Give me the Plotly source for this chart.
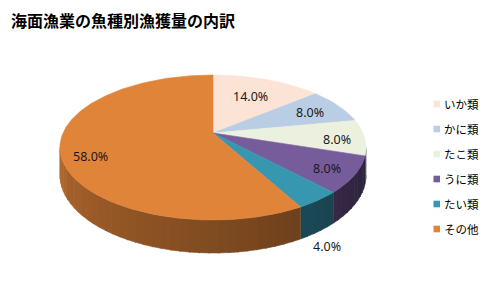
import numpy as np
import plotly.graph_objects as go

# ---- data ----
categories = ["いか類", "かに類", "たこ類", "うに類", "たい類", "その他"]
values = [14.0, 8.0, 8.0, 8.0, 4.0, 58.0]
title_text = "海面漁業の魚種別漁獲量の内訳"

# ---- style ----
top_colors = ["#FBE4D5", "#B9CDE5", "#EBF1DE", "#775C9C", "#3797B0", "#E0843A"]
label_modes = ["in", "in", "in", "in", "out", "in"]
label_radius = [0.65, 0.76, 0.82, 0.82, 1.0, 0.81]
label_dy = [0, 1, 2.5, 2, 15, 8.5]

CX, CY = 213.0, 133.0      # pie vertex (pixels)
RX, RY = 150.0, 69.6       # radii
K = 0.2                    # perspective strength
T = 26.4                   # thickness
W, H = 497, 298


def proj(theta_deg, r=1.0, drop=0.0):
    th = np.radians(theta_deg)
    s = -np.cos(th) * r
    p = 1.0 / (1.0 - K * s)
    x = CX + RX * r * np.sin(th) * p
    y = CY + RY * s * p + drop * T * (1.0 / (1.0 - K * (-np.cos(th))))
    return x, y


def shade(hex_color, f):
    h = hex_color.lstrip("#")
    r, g, b = (int(h[i:i + 2], 16) for i in (0, 2, 4))
    return "rgb(%d,%d,%d)" % (r * f, g * f, b * f)


def wall_factor(theta):
    return 0.35 + (theta - 100.0) / 170.0 * 0.47


total = sum(values)
angles = np.cumsum([0.0] + [v / total * 360.0 for v in values])

fig = go.Figure()

# silhouette limits of visible side wall
sil_a = np.degrees(np.arccos(-K))
sil_b = 360.0 - sil_a

# side walls
for i, cat in enumerate(categories):
    a0, a1 = max(angles[i], sil_a), min(angles[i + 1], sil_b)
    if a1 <= a0:
        continue
    n = max(2, int((a1 - a0) / 3.0) + 1)
    edges = np.linspace(a0, a1, n + 1)
    for j in range(n):
        t = np.linspace(edges[j], edges[j + 1] + (0.4 if j < n - 1 else 0), 6)
        xt, yt = proj(t)
        xb, yb = proj(t[::-1], drop=1.0)
        col = shade(top_colors[i], wall_factor((edges[j] + edges[j + 1]) / 2))
        fig.add_trace(go.Scatter(
            x=np.concatenate([xt, xb]), y=np.concatenate([yt, yb]),
            mode="lines", fill="toself", fillcolor=col,
            line=dict(color=col, width=0.6),
            hoverinfo="skip", showlegend=False))

# top faces
for i, cat in enumerate(categories):
    t = np.linspace(angles[i], angles[i + 1], max(3, int(values[i] / total * 360)))
    xa, ya = proj(t)
    fig.add_trace(go.Scatter(
        x=np.concatenate([[CX], xa, [CX]]), y=np.concatenate([[CY], ya, [CY]]),
        mode="lines", fill="toself", fillcolor=top_colors[i],
        line=dict(color=top_colors[i], width=0.6),
        name=cat, hoverinfo="skip", showlegend=False))

annotations = []
# data labels
for i, cat in enumerate(categories):
    mid = (angles[i] + angles[i + 1]) / 2
    if label_modes[i] == "in":
        lx, ly = proj(mid, r=label_radius[i])
    else:
        lx, ly = proj(mid, r=label_radius[i], drop=1.0)
    ly += label_dy[i]
    if label_modes[i] == "out":
        lx += 9
    annotations.append(dict(
        x=lx, y=ly, xref="x", yref="y", text="%.1f%%" % (values[i] / total * 100),
        showarrow=False, font=dict(family="Noto Sans", size=12.5, color="#1a1a1a"),
        xanchor="center", yanchor="middle"))

# title
annotations.append(dict(
    x=9, y=20, xref="x", yref="y", text="<b>%s</b>" % title_text, showarrow=False,
    font=dict(family="Noto Sans CJK JP", size=16, color="#000000"),
    xanchor="left", yanchor="middle"))

# legend
shapes = []
for i, cat in enumerate(categories):
    ly = 104 + 25 * i
    shapes.append(dict(type="rect", xref="x", yref="y", x0=433.5, x1=440, y0=ly - 3.3, y1=ly + 3.3,
                       fillcolor=top_colors[i], line=dict(width=0)))
    annotations.append(dict(
        x=442, y=ly, xref="x", yref="y", text=cat, showarrow=False,
        font=dict(family="Noto Sans CJK JP", size=11.5, color="#000000"),
        xanchor="left", yanchor="middle"))

fig.update_layout(
    width=W, height=H, margin=dict(l=0, r=0, t=0, b=0),
    paper_bgcolor="white", plot_bgcolor="white",
    xaxis=dict(range=[0, W], visible=False, fixedrange=True),
    yaxis=dict(range=[H, 0], visible=False, fixedrange=True),
    annotations=annotations, shapes=shapes, showlegend=False,
)

fig.write_html("out.html")
